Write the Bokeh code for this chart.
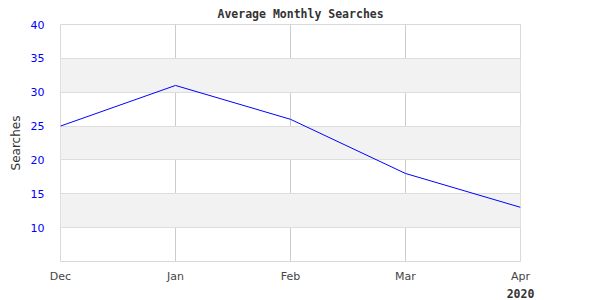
from bokeh.plotting import figure
from bokeh.models import FixedTicker, Range1d, LinearAxis
from bokeh.embed import file_html
from bokeh.resources import INLINE

months = ["Dec", "Jan", "Feb", "Mar", "Apr"]
searches = [25, 31, 26, 18, 13]
y_ticks = [5, 10, 15, 20, 25, 30, 35, 40]
year_label = "2020"
title_text = "Average Monthly Searches"

xs = list(range(len(months)))

p = figure(width=600, height=300, output_backend="svg", toolbar_location=None,
           x_range=Range1d(0, len(months) - 1), y_range=Range1d(5, 40),
           min_border_left=60, min_border_right=80, min_border_top=23, min_border_bottom=0)

p.title.text = title_text
p.title.align = "left"
p.title.offset = 157
p.title.text_font = "DejaVu Sans Mono"
p.title.text_font_style = "bold"
p.title.text_font_size = "11.5px"
p.title.text_line_height = 1.0
p.title.text_color = "#333333"
p.title.standoff = 8

p.line(xs, searches, line_color="#0000ff", line_width=1)

p.xaxis.ticker = FixedTicker(ticks=xs)
p.xaxis.major_label_overrides = {i: m for i, m in enumerate(months)}
p.yaxis.ticker = FixedTicker(ticks=y_ticks)
p.yaxis.major_label_overrides = {5: ""}

for ax in (p.xaxis, p.yaxis):
    ax.axis_line_color = None
    ax.major_tick_line_color = None
    ax.minor_tick_line_color = None
    ax.major_label_text_font = "DejaVu Sans"
    ax.major_label_text_font_size = "11px"
p.xaxis.major_tick_out = 0
p.xaxis.minor_tick_out = 0
p.xaxis.major_label_text_color = "#444444"
p.yaxis.major_label_text_color = "#0000ff"
p.xaxis.major_label_standoff = 8
p.yaxis.major_label_standoff = 10

year_axis = LinearAxis(ticker=FixedTicker(ticks=[xs[-1]]),
                       major_label_overrides={xs[-1]: year_label},
                       axis_line_color=None, major_tick_line_color=None,
                       minor_tick_line_color=None, major_tick_out=0, minor_tick_out=0,
                       major_label_standoff=3,
                       major_label_text_align="right",
                       major_label_text_font="DejaVu Sans Mono",
                       major_label_text_font_style="bold",
                       major_label_text_font_size="11.5px",
                       major_label_text_color="#333333")
p.add_layout(year_axis, "below")

p.yaxis.axis_label = "Searches"
p.yaxis.axis_label_text_font = "DejaVu Sans"
p.yaxis.axis_label_text_font_style = "normal"
p.yaxis.axis_label_text_font_size = "12px"
p.yaxis.axis_label_text_color = "#333333"

p.xgrid.grid_line_color = "#cccccc"
p.ygrid.grid_line_color = "#dddddd"
p.ygrid.band_fill_color = "#f2f2f2"
p.ygrid.band_fill_alpha = 1
p.outline_line_color = "#d9d9d9"
p.background_fill_color = "white"
p.border_fill_color = "white"

open("out.html", "w").write(file_html(p, INLINE))
